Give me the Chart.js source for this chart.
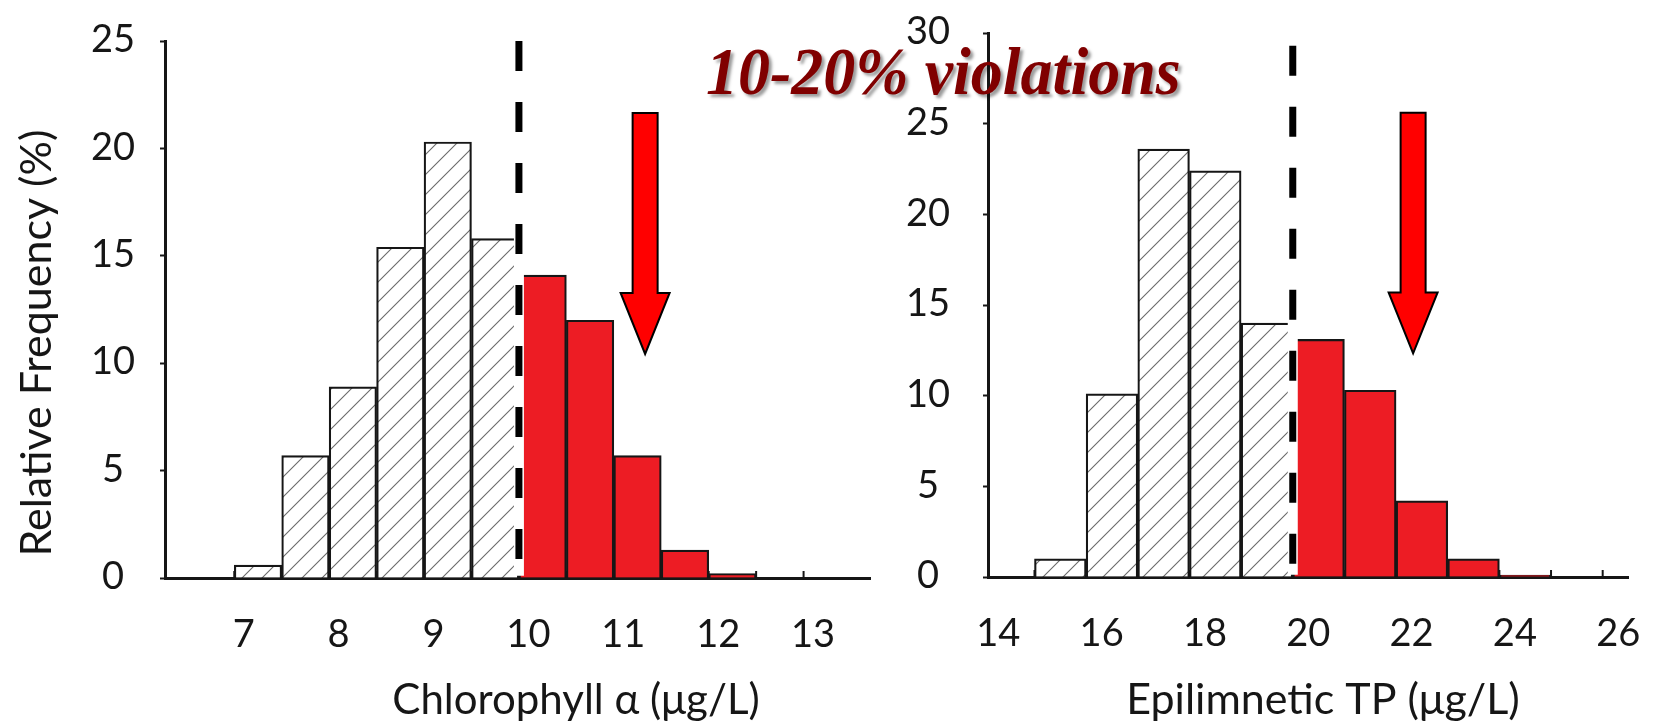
<!DOCTYPE html>
<html>
<head>
<meta charset="utf-8">
<script src="https://cdn.jsdelivr.net/npm/chart.js@4.4.1/dist/chart.umd.min.js"></script>
<style>
  html, body { margin: 0; padding: 0; background: #ffffff; }
  #wrap { position: relative; width: 1658px; height: 726px; overflow: hidden; background: #fff; }
  #c1 { position: absolute; left: 0; top: 0; }
  #c2 { position: absolute; left: 880px; top: 0; }
  #headline {
    position: absolute; left: 706px; top: 40px; z-index: 5;
    font: italic bold 64px "Liberation Serif", "Times New Roman", serif;
    line-height: 64px; color: #800000; white-space: nowrap;
    transform: scaleY(1.06); transform-origin: 0 50%;
    text-shadow: 3px 3px 3px rgba(0,0,0,0.4);
  }
</style>
</head>
<body>
<div id="wrap">
  <canvas id="c1" width="880" height="726"></canvas>
  <canvas id="c2" width="778" height="726"></canvas>
  <div id="headline">10-20% violations</div>
</div>
<script>
// ---------- data: Chlorophyll a histogram ----------
const chlBinCenters = [7.15, 7.65, 8.15, 8.65, 9.15, 9.65, 10.15, 10.65, 11.15, 11.65, 12.15];
const chlFrequency  = [0.6, 5.7, 8.9, 15.4, 20.3, 15.8, 14.1, 12.0, 5.7, 1.3, 0.2];
const chlBinWidth   = 0.5;
const chlThreshold  = 9.9;
const chlXTicks     = [7, 8, 9, 10, 11, 12, 13];
const chlYTicks     = [0, 5, 10, 15, 20, 25];
const chlArrow      = { x: 11.23, top: 21.65, tip: 10.43 };
const chlDashTop    = 25;

// ---------- data: Epilimnetic TP histogram ----------
const tpBinCenters = [15.2, 16.2, 17.2, 18.2, 19.2, 20.2, 21.2, 22.2, 23.2, 24.2];
const tpFrequency  = [1.0, 10.1, 23.6, 22.4, 14.0, 13.1, 10.3, 4.2, 1.0, 0.1];
const tpBinWidth   = 1;
const tpThreshold  = 19.7;
const tpXTicks     = [14, 16, 18, 20, 22, 24, 26];
const tpYTicks     = [0, 5, 10, 15, 20, 25, 30];
const tpArrow      = { x: 22.03, top: 25.6, tip: 12.33 };
const tpDashTop    = 29.3;

const TICK_FONT = { family: 'Lato', size: 38 };
const INK = '#161616';

function makeHatch() {
  const s = 20;
  const c = document.createElement('canvas');
  c.width = s; c.height = s;
  const g = c.getContext('2d');
  g.fillStyle = '#ffffff';
  g.fillRect(0, 0, s, s);
  g.strokeStyle = '#6a6a6a';
  g.lineWidth = 1.1;
  g.beginPath();
  g.moveTo(-2, s + 2); g.lineTo(s + 2, -2);
  g.moveTo(-2, 2); g.lineTo(2, -2);
  g.moveTo(s - 2, s + 2); g.lineTo(s + 2, s - 2);
  g.stroke();
  return g.createPattern(c, 'repeat');
}
const hatch = makeHatch();

const extras = {
  id: 'extras',
  beforeDatasetsDraw(chart, args, o) {
    const { ctx } = chart;
    const xs = chart.scales.x, ys = chart.scales.y;
    const y0 = ys.getPixelForValue(0);
    ctx.save();
    ctx.strokeStyle = INK; ctx.lineWidth = 2;
    for (const e of o.edges) {
      const px = xs.getPixelForValue(e);
      ctx.beginPath(); ctx.moveTo(px, y0); ctx.lineTo(px, y0 - 7); ctx.stroke();
    }
    ctx.restore();
  },
  afterDatasetsDraw(chart, args, o) {
    const { ctx } = chart;
    const xs = chart.scales.x, ys = chart.scales.y;
    const a = o.arrow;
    const cx = xs.getPixelForValue(a.x);
    const yt = ys.getPixelForValue(a.top);
    const yp = ys.getPixelForValue(a.tip);
    const sw = 12.5, hw = 24.5, hl = 61;
    ctx.save();
    ctx.beginPath();
    ctx.moveTo(cx - sw, yt);
    ctx.lineTo(cx + sw, yt);
    ctx.lineTo(cx + sw, yp - hl);
    ctx.lineTo(cx + hw, yp - hl);
    ctx.lineTo(cx, yp);
    ctx.lineTo(cx - hw, yp - hl);
    ctx.lineTo(cx - sw, yp - hl);
    ctx.closePath();
    ctx.fillStyle = '#ff0000';
    ctx.fill();
    ctx.lineWidth = 2;
    ctx.strokeStyle = '#000';
    ctx.lineJoin = 'miter';
    ctx.stroke();
    ctx.restore();
  },
  afterDraw(chart, args, o) {
    const { ctx } = chart;
    for (const t of o.titles) {
      ctx.save();
      ctx.font = t.font;
      ctx.fillStyle = INK;
      ctx.textAlign = 'center';
      ctx.textBaseline = 'middle';
      ctx.translate(t.x, t.y);
      if (t.rotate) ctx.rotate(-Math.PI / 2);
      ctx.fillText(t.text, 0, 0);
      ctx.restore();
    }
  }
};

function buildChart(el, o) {
  const colors = o.centers.map(c => (c < o.threshold ? hatch : '#ed1c24'));
  const last = o.centers[o.centers.length - 1];
  const edges = o.centers.map(c => c - o.binWidth / 2)
    .concat([last + o.binWidth / 2, last + 1.5 * o.binWidth]);
  return new Chart(el, {
    type: 'bar',
    data: {
      datasets: [
        {
          type: 'line',
          data: [{ x: o.threshold, y: o.dashTop }, { x: o.threshold, y: 0 }],
          borderColor: '#000', borderWidth: 7, borderDash: [30, 31],
          pointRadius: 0, fill: false, order: 0
        },
        {
          type: 'line',
          data: [{ x: o.threshold, y: o.dashTop }, { x: o.threshold, y: o.yMax * 0.004 }],
          borderColor: '#fff', borderWidth: 10,
          pointRadius: 0, fill: false, order: 1
        },
        {
          type: 'bar',
          data: o.centers.map((c, i) => ({ x: c, y: o.freq[i] })),
          backgroundColor: colors,
          borderColor: INK, borderWidth: 2.2, borderSkipped: 'start',
          categoryPercentage: 1, barPercentage: 1, order: 2
        }
      ]
    },
    options: {
      responsive: false, animation: false, events: [],
      layout: { padding: { top: o.padTop, right: o.padRight, left: 0, bottom: 0 } },
      plugins: {
        legend: { display: false },
        tooltip: { enabled: false },
        extras: { edges: edges, arrow: o.arrow, titles: o.titles }
      },
      scales: {
        x: {
          type: 'linear', min: o.xMin, max: o.xMax, offset: false,
          afterBuildTicks: s => { s.ticks = o.xTicks.map(v => ({ value: v })); },
          afterFit: s => { s.height = o.xAxisHeight; s.paddingLeft = 0; s.paddingRight = 0; },
          grid: { display: false, offset: false },
          border: { display: true, color: INK, width: 3 },
          ticks: { font: TICK_FONT, color: INK, padding: 26, maxRotation: 0, autoSkip: false }
        },
        y: {
          type: 'linear', min: 0, max: o.yMax,
          afterBuildTicks: s => { s.ticks = o.yTicks.map(v => ({ value: v })); },
          afterFit: s => { s.width = o.yAxisWidth; s.paddingTop = 0; s.paddingBottom = 0; },
          grid: { display: true, drawOnChartArea: false, drawTicks: true, tickLength: 5, tickWidth: 2, tickColor: INK },
          border: { display: true, color: INK, width: 3 },
          ticks: { font: TICK_FONT, color: INK, padding: o.yPad, crossAlign: 'center', labelOffset: -1 }
        }
      }
    },
    plugins: [extras]
  });
}

buildChart(document.getElementById('c1'), {
  centers: chlBinCenters, freq: chlFrequency, binWidth: chlBinWidth, threshold: chlThreshold,
  xTicks: chlXTicks, yTicks: chlYTicks, arrow: chlArrow, dashTop: chlDashTop,
  xMin: 6.17, xMax: 13.6, yMax: 25,
  padTop: 41, padRight: 10, xAxisHeight: 148, yAxisWidth: 165, yPad: 25,
  titles: [
    { text: 'Chlorophyll \u03B1 (\u03BCg/L)', x: 576, y: 700, font: '42px Lato' },
    { text: 'Relative Frequency (%)', x: 37, y: 343, font: '43px Lato', rotate: true }
  ]
});

buildChart(document.getElementById('c2'), {
  centers: tpBinCenters, freq: tpFrequency, binWidth: tpBinWidth, threshold: tpThreshold,
  xTicks: tpXTicks, yTicks: tpYTicks, arrow: tpArrow, dashTop: tpDashTop,
  xMin: 13.8, xMax: 26.19, yMax: 30,
  padTop: 33, padRight: 30, xAxisHeight: 149, yAxisWidth: 108, yPad: 33,
  titles: [
    { text: 'Epilimnetic TP (\u03BCg/L)', x: 443, y: 700, font: '43px Lato' }
  ]
});
</script>
</body>
</html>
